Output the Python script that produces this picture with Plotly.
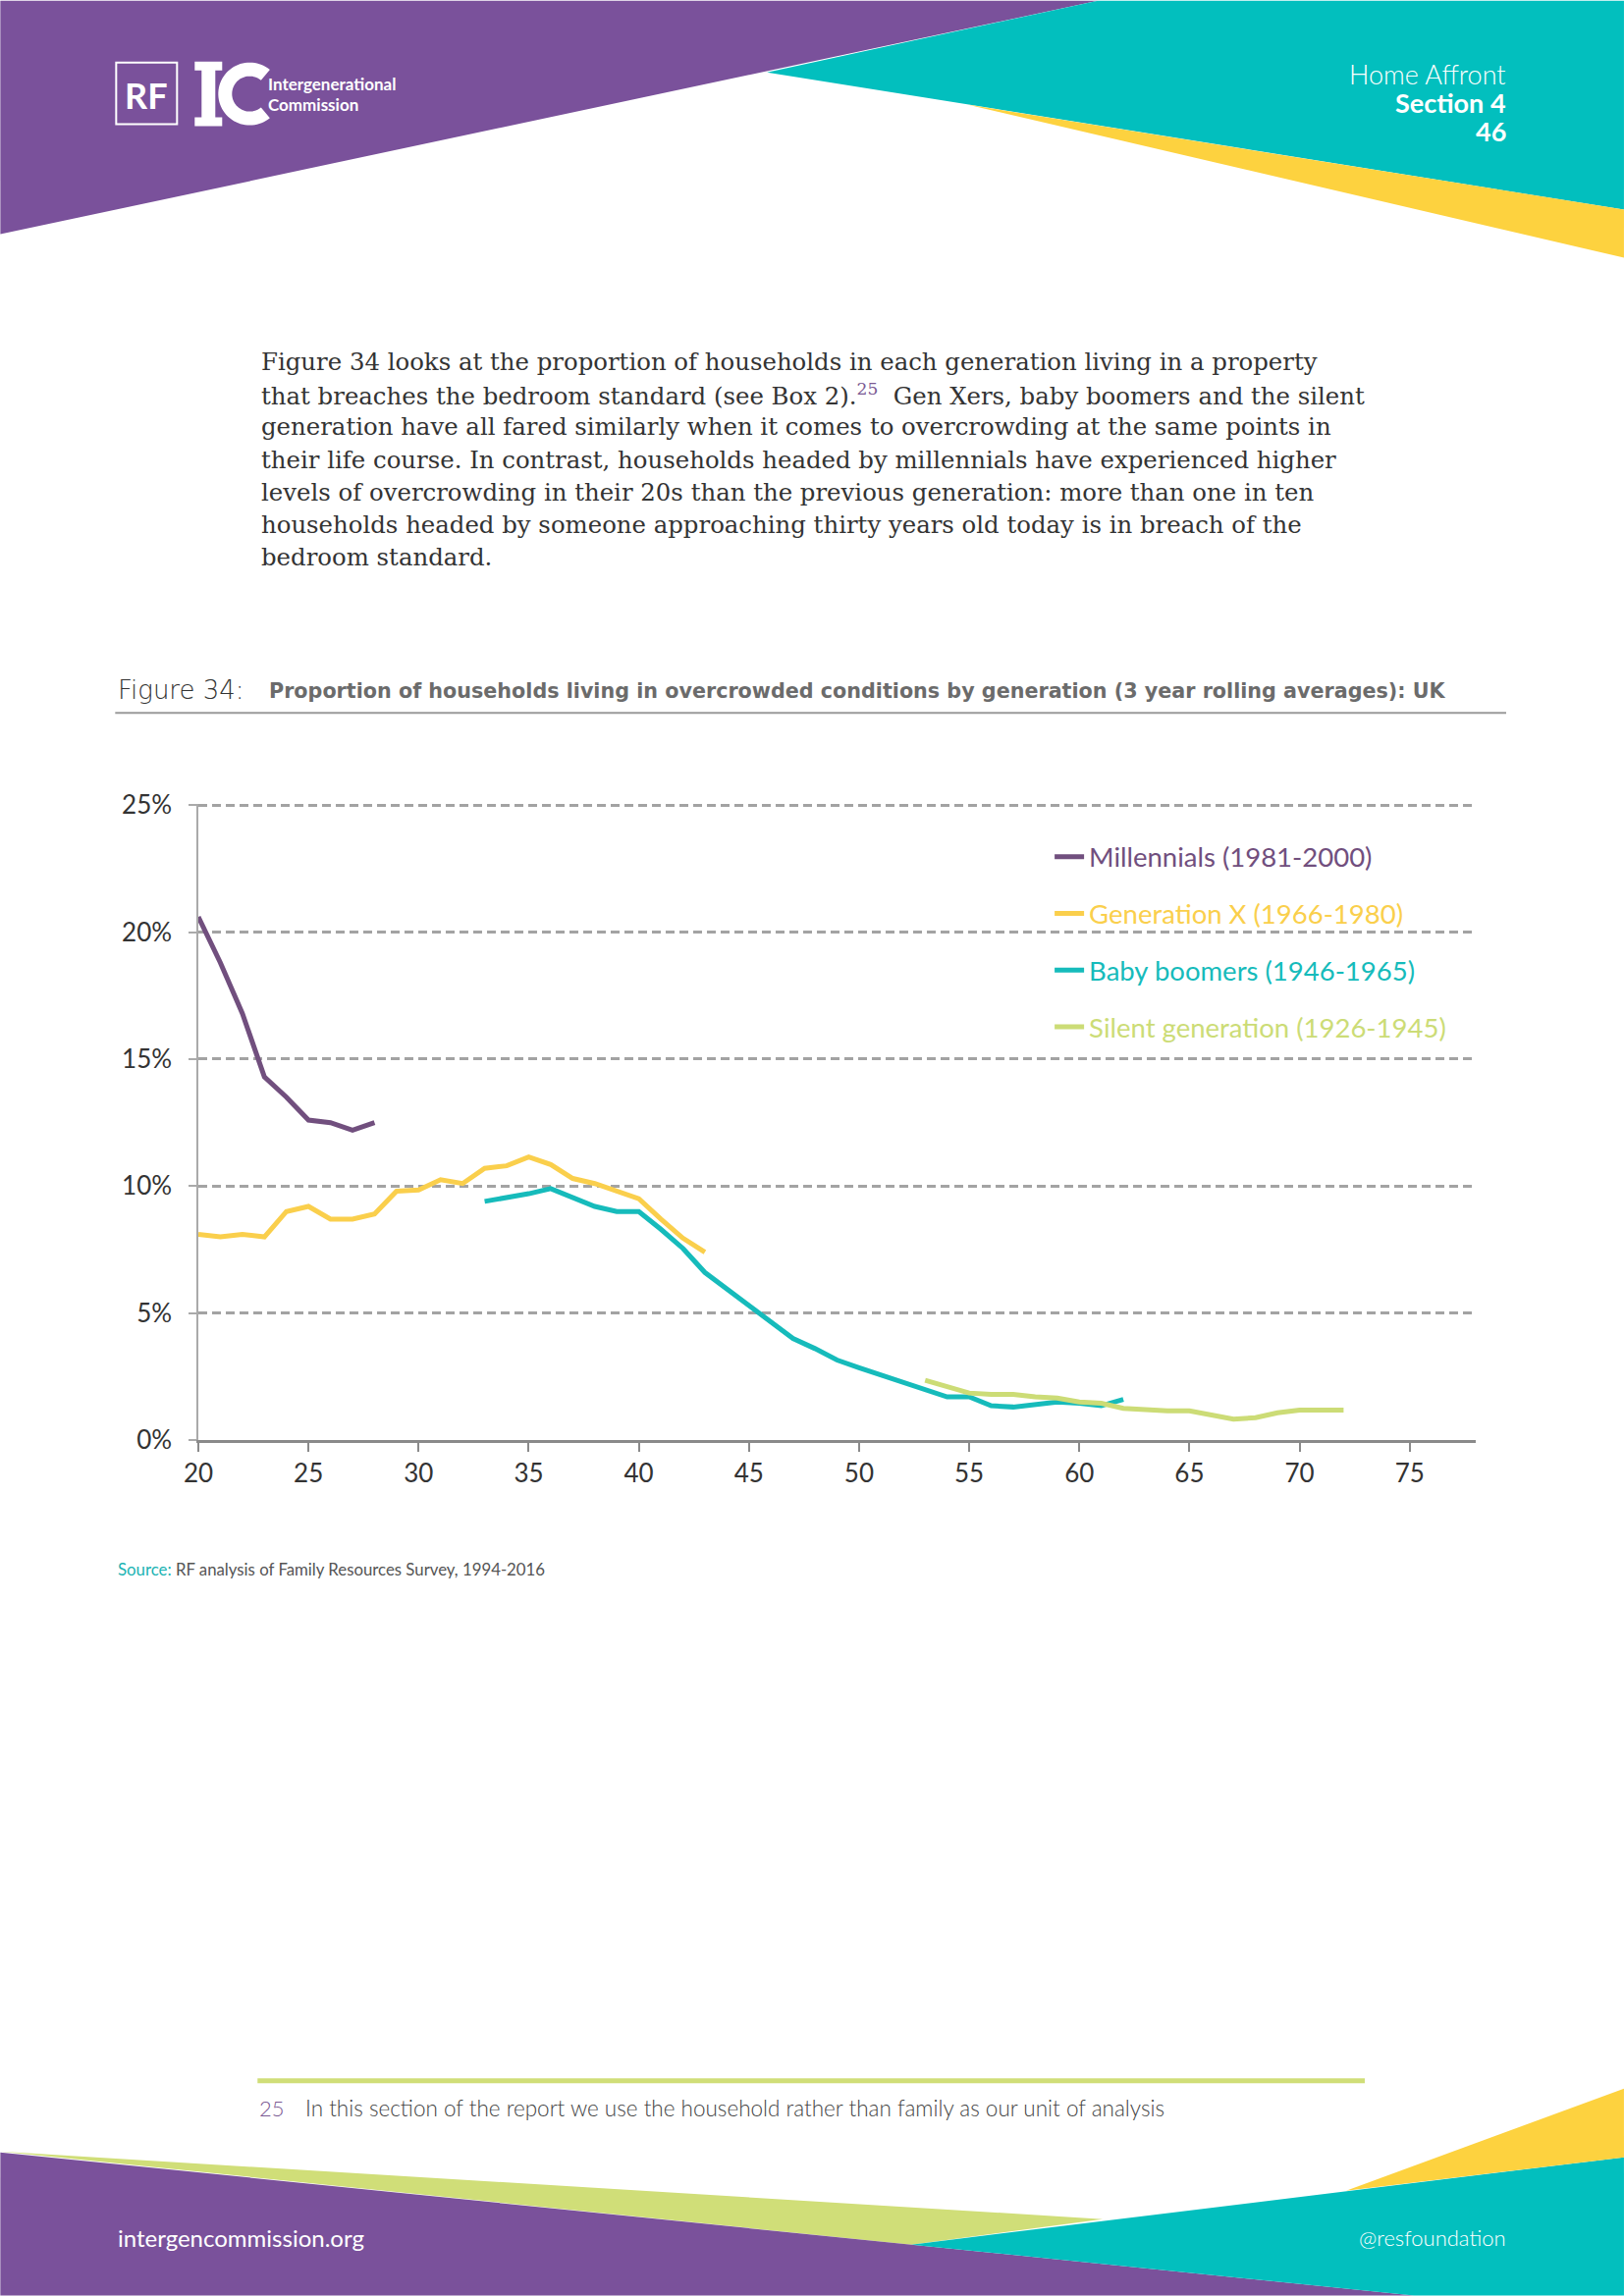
import numpy as np
import plotly.graph_objects as go

# ---------------- data ----------------
series_names = [
    "Millennials (1981-2000)",
    "Generation X (1966-1980)",
    "Baby boomers (1946-1965)",
    "Silent generation (1926-1945)",
]
millennials_age = list(range(20, 29))
millennials_val = [20.6, 18.8, 16.8, 14.3, 13.5, 12.6, 12.5, 12.2, 12.5]

genx_age = list(range(20, 44))
genx_val = [8.1, 8.0, 8.1, 8.0, 9.0, 9.2, 8.7, 8.7, 8.9, 9.8, 9.85, 10.25,
            10.1, 10.7, 10.8, 11.15, 10.85, 10.3, 10.1, 9.8, 9.5, 8.7, 7.95, 7.4]

boomers_age = list(range(33, 63))
boomers_val = [9.4, 9.55, 9.7, 9.9, 9.55, 9.2, 9.0, 9.0, 8.3, 7.55, 6.6, 5.95,
               5.3, 4.6, 4.0, 3.6, 3.15, 2.85, 2.55, 2.25, 2.0, 1.7, 1.7, 1.35,
               1.3, 1.4, 1.5, 1.45, 1.35, 1.6]

silent_age = list(range(53, 73))
silent_val = [2.35, 2.1, 1.85, 1.8, 1.8, 1.7, 1.65, 1.5, 1.45, 1.25, 1.2, 1.15,
              1.15, 1.0, 0.82, 0.88, 1.07, 1.18, 1.18, 1.18]

x_ticks = [20, 25, 30, 35, 40, 45, 50, 55, 60, 65, 70, 75]
y_ticks = [0, 5, 10, 15, 20, 25]
y_tick_labels = ["0%", "5%", "10%", "15%", "20%", "25%"]

colors = ["#714F7E", "#FACF4C", "#16BBBB", "#CCDC76"]

body_lines = [
    "Figure 34 looks at the proportion of households in each generation living in a property",
    "that breaches the bedroom standard (see Box 2).<sup><span style='color:#7B5A94'>25</span></sup>  Gen Xers, baby boomers and the silent",
    "generation have all fared similarly when it comes to overcrowding at the same points in",
    "their life course. In contrast, households headed by millennials have experienced higher",
    "levels of overcrowding in their 20s than the previous generation: more than one in ten",
    "households headed by someone approaching thirty years old today is in breach of the",
    "bedroom standard.",
]

# ---------------- page geometry ----------------
W, H = 1654, 2339
L, R = 201.7, 1503.0
B = 1467.0
YMAX = 25.05
T = B - YMAX * 25.88


def X(px):
    return (px - L) / (R - L)


def Y(py):
    return (B - py) / (B - T)


PURPLE = "#7A519B"
TEAL = "#02BFBE"
YELLOW = "#FDD23F"
GREEN = "#D0DE78"

fig = go.Figure()
for name, xs, ys, c in zip(series_names,
                           [millennials_age, genx_age, boomers_age, silent_age],
                           [millennials_val, genx_val, boomers_val, silent_val],
                           colors):
    fig.add_trace(go.Scatter(
        x=xs, y=ys, mode="lines",
        name=f"<span style='color:{c}'>{name}</span>",
        line=dict(color=c, width=5),
        legendgroup=name,
    ))


def poly(points, color):
    d = "M " + " L ".join(f"{X(a):.5f},{Y(b):.5f}" for a, b in points) + " Z"
    return dict(type="path", path=d, xref="paper", yref="paper",
                fillcolor=color, line=dict(width=0), layer="above")


shapes = [
    # header
    poly([(0, 0), (1118, 0), (0, 238)], PURPLE),
    poly([(1118, 0), (1654, 0), (1654, 213), (781, 73)], TEAL),
    poly([(985, 106), (1654, 213), (1654, 262)], YELLOW),
    # footer
    poly([(0, 2192), (1123, 2261), (928, 2287)], GREEN),
    poly([(0, 2193), (1440, 2339), (0, 2339)], PURPLE),
    poly([(928, 2287), (1654, 2198), (1654, 2339), (1440, 2339)], TEAL),
    poly([(1371, 2232), (1654, 2128), (1654, 2198)], YELLOW),
]

# logo: RF box, I and C
shapes.append(dict(type="rect", xref="paper", yref="paper",
                   x0=X(118), x1=X(180), y0=Y(126), y1=Y(63),
                   line=dict(color="white", width=2), layer="above"))
shapes.append(poly([(198, 62), (226, 62), (226, 71), (219, 71), (219, 119),
                    (226, 119), (226, 128), (198, 128), (198, 119), (205, 119),
                    (205, 71), (198, 71)], "white"))
ang = np.radians(np.linspace(50, 310, 60))
cx, cy, ro, ri = 254, 95, 32, 18
outer = [(cx + ro * np.cos(a), cy - ro * np.sin(a)) for a in ang]
inner = [(cx + ri * np.cos(a), cy - ri * np.sin(a)) for a in ang[::-1]]
shapes.append(poly(outer + inner, "white"))

# rules
shapes.append(dict(type="line", xref="paper", yref="paper",
                   x0=X(117), x1=X(1534), y0=Y(726), y1=Y(726),
                   line=dict(color="#9a9a9a", width=2), layer="above"))
shapes.append(dict(type="line", xref="paper", yref="paper",
                   x0=X(262), x1=X(1390), y0=Y(2120), y1=Y(2120),
                   line=dict(color=GREEN, width=5), layer="above"))

ann = []


def text(px, py, s, size, color, family="Lato", anchor="left", weight=None):
    f = dict(size=size, color=color, family=family)
    if weight:
        f["weight"] = weight
    ann.append(dict(x=X(px), y=Y(py), xref="paper", yref="paper", text=s,
                    showarrow=False, xanchor=anchor, yanchor="middle", font=f))


# header text
text(148.5, 96, "<b>RF</b>", 36, "white", anchor="center")
text(271, 85, "<b>Intergenerational</b>", 17, "white")
text(271, 106, "<b>Commission</b>", 17, "white")
text(1536, 75, "Home Affront", 27, "white", anchor="right", weight=300)
text(1536, 104, "<b>Section 4</b>", 27, "white", anchor="right")
text(1536, 133, "<b>46</b>", 27, "white", anchor="right")

# body text
for i, line in enumerate(body_lines):
    text(264, 368 + i * 33.2, line, 24.4, "#333333", family="DejaVu Serif")

# figure title
text(118, 703, "Figure 34:", 26, "#333333", family="DejaVu Sans", weight=200)
text(272, 704, "Proportion of households living in overcrowded conditions by generation (3 year rolling averages): UK",
     20.7, "#6b6b6b", family="DejaVu Sans", weight="bold")

# source
text(118, 1599, "<span style='color:#1AB3B3'>Source:</span> RF analysis of Family Resources Survey, 1994-2016",
     16.8, "#555555")

# footnote
text(262, 2148, "25", 22, "#7B5A94", weight=300)
text(309, 2148, "In this section of the report we use the household rather than family as our unit of analysis",
     22.5, "#444444", weight=300)

# footer text
text(118, 2280, "intergencommission.org", 24, "white")
text(1536, 2280, "@resfoundation", 22, "white", anchor="right", weight=300)

fig.update_layout(
    width=W, height=H, autosize=False,
    margin=dict(l=L, r=W - R, t=T, b=H - B, pad=0),
    paper_bgcolor="white", plot_bgcolor="rgba(0,0,0,0)",
    showlegend=True,
    legend=dict(x=X(1069), y=Y(848), xanchor="left", yanchor="top",
                font=dict(family="Lato", size=27.5), bgcolor="rgba(0,0,0,0)",
                tracegroupgap=19, traceorder="grouped"),
    shapes=shapes, annotations=ann,
    xaxis=dict(range=[20, 78], tickvals=x_ticks, showgrid=False, zeroline=False,
               showline=True, linecolor="#8a8a8a", linewidth=3,
               ticks="outside", ticklen=9, tickwidth=2, tickcolor="#8a8a8a",
               tickfont=dict(family="Lato", size=26, color="#333333"),
               ticklabelstandoff=0),
    yaxis=dict(range=[0, YMAX], tickvals=y_ticks, ticktext=y_tick_labels,
               zeroline=False,
               showgrid=True, gridcolor="#a3a3a3", gridwidth=2.5, griddash="9px,5px",
               showline=True, linecolor="#aaaaaa", linewidth=1.5,
               ticks="outside", ticklen=8, tickwidth=1.5, tickcolor="#aaaaaa",
               tickfont=dict(family="Lato", size=26, color="#333333"),
               ticklabelstandoff=12),
)

fig.write_html("out.html", config={"displayModeBar": False},
               post_script="document.body.style.margin='0px';")
